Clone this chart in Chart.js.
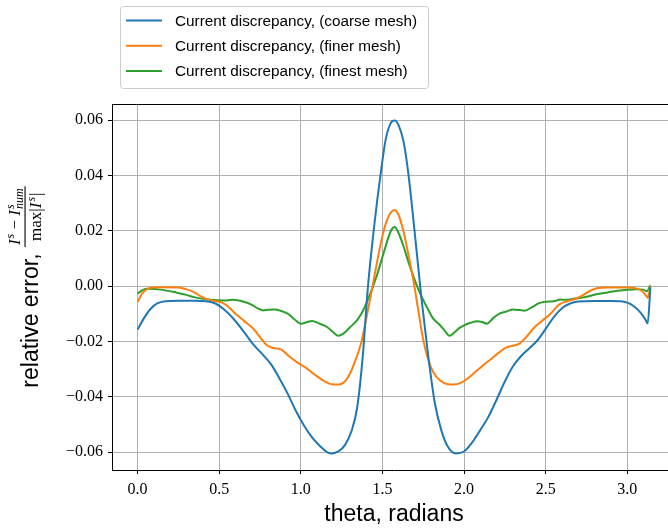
<!DOCTYPE html>
<html>
<head>
<meta charset="utf-8">
<script src="https://cdn.jsdelivr.net/npm/chart.js@4.4.1/dist/chart.umd.min.js"></script>
<style>
  html, body { margin: 0; padding: 0; background: #fff; overflow: hidden; }
  #wrap { width: 680px; height: 529px; }
</style>
</head>
<body>
<div id="wrap"><canvas id="c" width="680" height="529"></canvas></div>
<script>
// ---- data ----
const seriesNames = [
  "Current discrepancy, (coarse mesh)",
  "Current discrepancy, (finer mesh)",
  "Current discrepancy, (finest mesh)"
];
const seriesColors = ["#1f77b4", "#ff7f0e", "#2ca02c"];

const thetaCoarse = [0, 0.04, 0.08, 0.12, 0.17, 0.25, 0.35, 0.43, 0.48, 0.53, 0.59, 0.65, 0.71, 0.77, 0.82, 0.87, 0.92, 0.97, 1.02, 1.07, 1.12, 1.16, 1.19, 1.23, 1.27, 1.31, 1.345, 1.38, 1.41, 1.45, 1.49, 1.52, 1.55, 1.575, 1.60, 1.63, 1.66, 1.70, 1.74, 1.78, 1.82, 1.86, 1.90, 1.95, 2.00, 2.05, 2.10, 2.15, 2.20, 2.25, 2.30, 2.35, 2.40, 2.45, 2.50, 2.55, 2.60, 2.65, 2.70, 2.80, 2.90, 2.96, 3.00, 3.04, 3.08, 3.11, 3.125, 3.1416];
const errCoarse = [-0.0157, -0.0115, -0.0082, -0.0063, -0.0055, -0.0053, -0.0053, -0.0056, -0.0064, -0.0085, -0.0120, -0.0165, -0.0212, -0.0250, -0.0285, -0.0335, -0.0390, -0.0452, -0.0505, -0.0548, -0.0580, -0.0600, -0.0605, -0.0598, -0.0575, -0.0525, -0.0440, -0.0250, -0.0010, 0.0220, 0.0410, 0.0530, 0.0588, 0.0598, 0.0580, 0.0520, 0.0400, 0.0180, -0.0050, -0.0250, -0.0420, -0.0520, -0.0580, -0.0605, -0.0598, -0.0565, -0.0520, -0.0472, -0.0410, -0.0345, -0.0290, -0.0253, -0.0225, -0.0196, -0.0155, -0.0112, -0.0080, -0.0063, -0.0056, -0.0054, -0.0054, -0.0055, -0.0060, -0.0073, -0.0095, -0.0120, -0.0135, -0.0005];

const thetaFiner = [0, 0.03, 0.06, 0.10, 0.15, 0.25, 0.30, 0.345, 0.39, 0.43, 0.48, 0.51, 0.55, 0.60, 0.65, 0.71, 0.75, 0.79, 0.83, 0.88, 0.93, 0.98, 1.03, 1.08, 1.14, 1.19, 1.23, 1.27, 1.30, 1.33, 1.37, 1.40, 1.43, 1.46, 1.49, 1.52, 1.55, 1.575, 1.60, 1.63, 1.66, 1.69, 1.72, 1.75, 1.78, 1.81, 1.85, 1.90, 1.94, 1.98, 2.02, 2.07, 2.12, 2.17, 2.22, 2.26, 2.30, 2.34, 2.38, 2.43, 2.48, 2.53, 2.58, 2.63, 2.69, 2.73, 2.77, 2.82, 2.88, 3.00, 3.05, 3.09, 3.115, 3.125, 3.1416];
const errFiner = [-0.0057, -0.0025, -0.0010, -0.0005, -0.0004, -0.0005, -0.0012, -0.0022, -0.0038, -0.0049, -0.0055, -0.0058, -0.0072, -0.0100, -0.0125, -0.0155, -0.0185, -0.0213, -0.0224, -0.0230, -0.0255, -0.0277, -0.0295, -0.0318, -0.0343, -0.0355, -0.0356, -0.0345, -0.0318, -0.0275, -0.0205, -0.0120, -0.0030, 0.0065, 0.0155, 0.0225, 0.0265, 0.0275, 0.0255, 0.0195, 0.0110, 0.0020, -0.0090, -0.0195, -0.0265, -0.0310, -0.0340, -0.0355, -0.0356, -0.0350, -0.0335, -0.0310, -0.0285, -0.0262, -0.0238, -0.0222, -0.0216, -0.0208, -0.0185, -0.0150, -0.0125, -0.0100, -0.0068, -0.0055, -0.0045, -0.0032, -0.0018, -0.0007, -0.0005, -0.0005, -0.0008, -0.0018, -0.0035, -0.0042, -0.0002];

const thetaFinest = [0, 0.03, 0.06, 0.14, 0.24, 0.30, 0.345, 0.40, 0.45, 0.53, 0.58, 0.65, 0.70, 0.74, 0.77, 0.80, 0.84, 0.88, 0.92, 0.96, 1.00, 1.04, 1.07, 1.11, 1.16, 1.20, 1.23, 1.26, 1.30, 1.345, 1.38, 1.41, 1.44, 1.47, 1.51, 1.55, 1.575, 1.60, 1.63, 1.66, 1.69, 1.72, 1.75, 1.78, 1.81, 1.85, 1.88, 1.91, 1.94, 1.97, 2.00, 2.04, 2.08, 2.11, 2.14, 2.18, 2.22, 2.26, 2.30, 2.34, 2.37, 2.42, 2.46, 2.50, 2.55, 2.59, 2.62, 2.67, 2.75, 2.81, 2.88, 2.94, 3.00, 3.06, 3.10, 3.12, 3.1416];
const errFinest = [-0.0027, -0.0015, -0.0010, -0.0013, -0.0024, -0.0032, -0.0040, -0.0046, -0.0050, -0.0052, -0.0050, -0.0057, -0.0068, -0.0082, -0.0088, -0.0086, -0.0085, -0.0090, -0.0100, -0.0120, -0.0136, -0.0130, -0.0126, -0.0135, -0.0148, -0.0168, -0.0180, -0.0172, -0.0150, -0.0123, -0.0090, -0.0050, -0.0005, 0.0046, 0.0125, 0.0197, 0.0213, 0.0190, 0.0142, 0.0085, 0.0034, -0.0012, -0.0051, -0.0085, -0.0117, -0.0140, -0.0160, -0.0180, -0.0168, -0.0152, -0.0142, -0.0133, -0.0127, -0.0130, -0.0136, -0.0115, -0.0099, -0.0092, -0.0085, -0.0087, -0.0089, -0.0075, -0.0062, -0.0057, -0.0055, -0.0049, -0.0050, -0.0046, -0.0039, -0.0030, -0.0023, -0.0017, -0.0013, -0.0012, -0.0013, -0.0019, 0.0003];

const xTicks = [0.0, 0.5, 1.0, 1.5, 2.0, 2.5, 3.0];
const yTicks = [-0.06, -0.04, -0.02, 0.00, 0.02, 0.04, 0.06];
const xTitle = "theta, radians";
const yTitle = "relative error, ";

// ---- build ----
function pts(xs, ys) { return xs.map((x, i) => ({ x: x, y: ys[i] })); }
const thetas = [thetaCoarse, thetaFiner, thetaFinest];
const errs = [errCoarse, errFiner, errFinest];

const SERIF = "'Liberation Serif', 'DejaVu Serif', serif";
const SANS = "'Liberation Sans', 'DejaVu Sans', sans-serif";
const MINUS = "\u2212";

const frameAndLabels = {
  id: 'frameAndLabels',
  afterDraw(chart) {
    const ctx = chart.ctx;
    const a = chart.chartArea;
    ctx.save();
    // top frame
    ctx.strokeStyle = '#000';
    ctx.lineWidth = 1;
    ctx.beginPath();
    ctx.moveTo(a.left, a.top + 0.5);
    ctx.lineTo(a.right, a.top + 0.5);
    ctx.stroke();

    // x title
    ctx.fillStyle = '#000';
    ctx.font = "23px " + SANS;
    ctx.textAlign = 'center';
    ctx.textBaseline = 'alphabetic';
    ctx.fillText(xTitle, (a.left + a.right) / 2, 521);

    // y title (rotated) with fraction
    const big = "17px " + SERIF, bigI = "italic 17px " + SERIF, small = "italic 12px " + SERIF;
    function w(font, t) { ctx.font = font; return ctx.measureText(t).width; }
    const wLab = w("23px " + SANS, yTitle);
    const minusStr = " " + MINUS + " ";
    const numW = w(bigI, "I") + 1 + w(small, "s") + w(big, minusStr) + w(bigI, "I") + 1 + Math.max(w(small, "s"), w(small, "num"));
    const denW = w(big, "max|") + w(bigI, "I") + 1 + w(small, "s") + 1 + w(big, "|");
    const fracW = Math.max(numW, denW) + 4;
    const total = wLab + fracW;
    const yc = (a.top + a.bottom) / 2;
    ctx.rotate(-Math.PI / 2);
    ctx.textAlign = 'left';
    let lx = -(yc + total / 2);
    ctx.font = "23px " + SANS;
    ctx.fillText(yTitle, lx, 38);
    const fx = lx + wLab;
    ctx.fillRect(fx, 24.5, fracW, 1.1);
    // numerator
    let nx = fx + (fracW - numW) / 2;
    const nb = 20;
    ctx.font = bigI; ctx.fillText("I", nx, nb); nx += w(bigI, "I") + 1;
    ctx.font = small; ctx.fillText("s", nx, nb - 6); nx += w(small, "s");
    ctx.font = big; ctx.fillText(minusStr, nx, nb); nx += w(big, minusStr);
    ctx.font = bigI; ctx.fillText("I", nx, nb); nx += w(bigI, "I") + 1;
    ctx.font = small; ctx.fillText("s", nx, nb - 6); ctx.fillText("num", nx, nb + 3);
    // denominator
    let dx = fx + (fracW - denW) / 2;
    const db = 41;
    ctx.font = big; ctx.fillText("max|", dx, db); dx += w(big, "max|");
    ctx.font = bigI; ctx.fillText("I", dx, db); dx += w(bigI, "I") + 1;
    ctx.font = small; ctx.fillText("s", dx, db - 6); dx += w(small, "s") + 1;
    ctx.font = big; ctx.fillText("|", dx, db);
    ctx.restore();

    // legend
    ctx.save();
    const bx = 120.5, by = 6.5, bw = 308, bh = 82, r = 3;
    ctx.beginPath();
    ctx.moveTo(bx + r, by);
    ctx.lineTo(bx + bw - r, by); ctx.arcTo(bx + bw, by, bx + bw, by + r, r);
    ctx.lineTo(bx + bw, by + bh - r); ctx.arcTo(bx + bw, by + bh, bx + bw - r, by + bh, r);
    ctx.lineTo(bx + r, by + bh); ctx.arcTo(bx, by + bh, bx, by + bh - r, r);
    ctx.lineTo(bx, by + r); ctx.arcTo(bx, by, bx + r, by, r);
    ctx.closePath();
    ctx.fillStyle = 'rgba(255,255,255,0.8)';
    ctx.fill();
    ctx.strokeStyle = '#cccccc';
    ctx.lineWidth = 1;
    ctx.stroke();
    ctx.font = "15.3px " + SANS;
    ctx.textBaseline = 'middle';
    ctx.textAlign = 'left';
    seriesNames.forEach((name, i) => {
      const ly = 20.5 + i * 25.2;
      ctx.strokeStyle = seriesColors[i];
      ctx.lineWidth = 2;
      ctx.beginPath(); ctx.moveTo(126, ly); ctx.lineTo(162, ly); ctx.stroke();
      ctx.fillStyle = '#000';
      ctx.fillText(name, 175, ly + 1);
    });
    ctx.restore();
  }
};

new Chart(document.getElementById('c'), {
  type: 'line',
  data: {
    datasets: seriesNames.map((n, i) => ({
      label: n,
      data: pts(thetas[i], errs[i]),
      borderColor: seriesColors[i],
      backgroundColor: seriesColors[i],
      borderWidth: 2,
      pointRadius: 0,
      fill: false,
      cubicInterpolationMode: 'monotone'
    }))
  },
  options: {
    responsive: false,
    animation: false,
    devicePixelRatio: 1,
    layout: { padding: { top: 104, left: 0, right: 4, bottom: 0 } },
    plugins: { legend: { display: false }, tooltip: { enabled: false } },
    scales: {
      x: {
        type: 'linear',
        min: -0.157,
        max: 3.2986,
        afterBuildTicks: s => { s.ticks = xTicks.map(v => ({ value: v })); },
        afterFit: s => { s.height = 59; },
        grid: { color: '#b0b0b0', lineWidth: 1, tickColor: '#000', tickLength: 4, drawTicks: true },
        border: { display: true, color: '#000', width: 1 },
        ticks: {
          color: '#000', font: { family: SERIF, size: 16 }, padding: 6, maxRotation: 0,
          callback: v => v.toFixed(1)
        }
      },
      y: {
        type: 'linear',
        min: -0.0665,
        max: 0.0658,
        afterBuildTicks: s => { s.ticks = yTicks.map(v => ({ value: v })); },
        afterFit: s => { s.width = 112; },
        grid: { color: '#b0b0b0', lineWidth: 1, tickColor: '#000', tickLength: 4, drawTicks: true },
        border: { display: true, color: '#000', width: 1 },
        ticks: {
          color: '#000', font: { family: SERIF, size: 16 }, padding: 5,
          callback: v => (v < -1e-9 ? MINUS : "") + Math.abs(v).toFixed(2)
        }
      }
    }
  },
  plugins: [frameAndLabels]
});
</script>
</body>
</html>
